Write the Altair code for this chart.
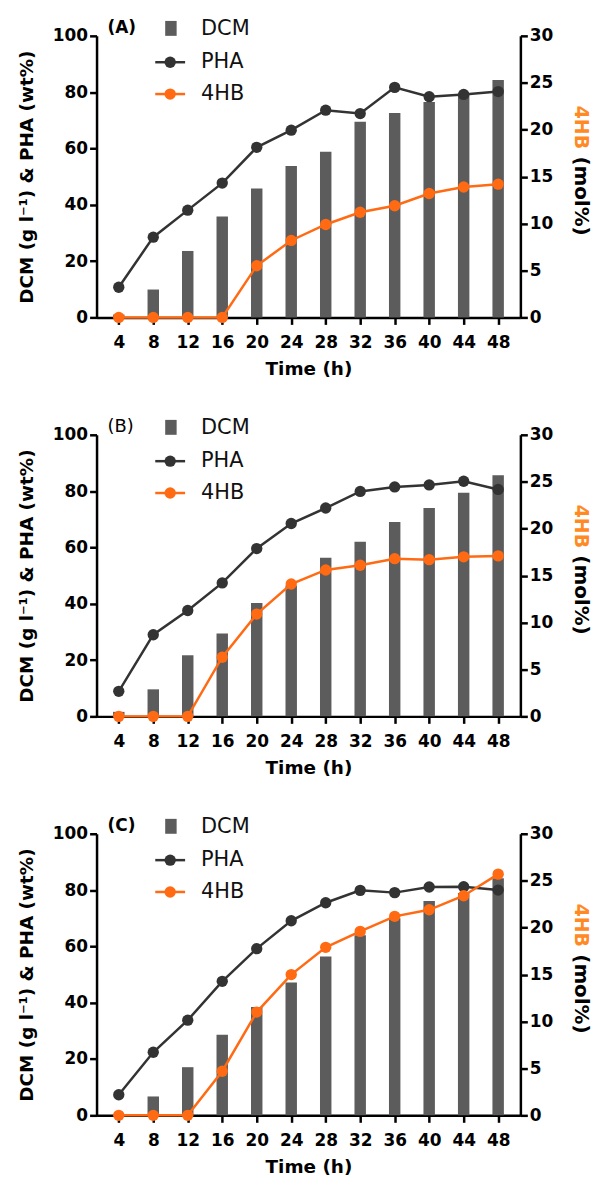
import altair as alt
import pandas as pd

# ---- data ----
time_h = [4, 8, 12, 16, 20, 24, 28, 32, 36, 40, 44, 48]

dcm_a = [1.0, 9.9, 23.6, 35.8, 45.8, 53.8, 58.8, 69.5, 72.6, 76.5, 79.0, 84.3]
pha_a = [10.7, 28.5, 38.1, 47.7, 60.4, 66.5, 73.6, 72.4, 81.7, 78.4, 79.2, 80.2]
hb_a = [0, 0, 0, 0, 5.5, 8.2, 9.9, 11.2, 11.9, 13.2, 13.9, 14.2]

dcm_b = [1.6, 9.6, 21.7, 29.4, 40.3, 46.5, 56.3, 62.0, 69.0, 74.0, 79.4, 85.6]
pha_b = [8.9, 29.0, 37.6, 47.4, 59.6, 68.5, 74.0, 79.9, 81.5, 82.2, 83.5, 80.6]
hb_b = [0, 0, 0, 6.3, 10.9, 14.1, 15.6, 16.1, 16.8, 16.7, 17.0, 17.1]

dcm_c = [0.0, 6.7, 17.1, 28.6, 38.5, 47.2, 56.4, 64.0, 70.0, 76.1, 79.0, 84.2]
pha_c = [7.3, 22.4, 33.8, 47.6, 59.2, 69.1, 75.5, 79.9, 79.1, 81.1, 81.2, 80.0]
hb_c = [0, 0, 0, 4.7, 11.0, 15.0, 17.9, 19.6, 21.2, 21.9, 23.4, 25.7]

left_ticks = [0, 20, 40, 60, 80, 100]
right_ticks = [0, 5, 10, 15, 20, 25, 30]
series_names = ["DCM", "PHA", "4HB"]

GRAY = "#5c5c5c"
DARK = "#333333"
ORANGE = "#ff6a13"
TITLE_ORANGE = "#ff8a24"
FONT = "DejaVu Sans"

W, H = 426, 283


def one(text):
    return pd.DataFrame({"t": [text]})


def panel(label, label_weight, label_size, dcm, pha, hb):
    df = pd.DataFrame({"Time": time_h, "DCM": dcm, "PHA": pha, "HB": hb})
    base = alt.Chart(df)
    x = alt.X(
        "Time:Q",
        scale=alt.Scale(domain=[2, 50], nice=False, zero=False),
        axis=alt.Axis(values=time_h, title="Time (h)", labelPadding=10, titlePadding=9),
    )
    yaxis = alt.Axis(
        values=left_ticks, title="DCM (g l\u207b\u00b9) & PHA (wt%)", orient="left",
        labelPadding=2, titlePadding=16,
    )
    yscale = alt.Scale(domain=[0, 100], nice=False)

    bars = base.mark_bar(size=11.5, color=GRAY).encode(
        x=x, y=alt.Y("DCM:Q", scale=yscale, axis=yaxis)
    )
    pha_line = base.mark_line(color=DARK, strokeWidth=2.5).encode(
        x=x, y=alt.Y("PHA:Q", scale=yscale, axis=yaxis)
    )
    pha_pts = base.mark_point(filled=True, size=130, color=DARK, opacity=1).encode(
        x=x, y=alt.Y("PHA:Q", scale=yscale, axis=yaxis)
    )
    left = alt.layer(bars, pha_line, pha_pts)

    rscale = alt.Scale(domain=[0, 30], nice=False)
    raxis = alt.Axis(values=right_ticks, orient="right", title=None, labelPadding=2)
    hb_line = base.mark_line(color=ORANGE, strokeWidth=2.5).encode(
        x=x, y=alt.Y("HB:Q", scale=rscale, axis=raxis)
    )
    hb_pts = base.mark_point(filled=True, size=130, color=ORANGE, opacity=1).encode(
        x=x, y=alt.Y("HB:Q", scale=rscale, axis=raxis)
    )
    right = alt.layer(hb_line, hb_pts)

    # panel label
    lab = alt.Chart(one(label)).mark_text(
        font=FONT, fontSize=label_size, fontWeight=label_weight, align="left", baseline="middle",
        color="black",
    ).encode(text="t:N", x=alt.value(11), y=alt.value(-8))

    # legend
    leg_y = [-7, 26.5, 58.5]
    leg_txt = [
        alt.Chart(one(n)).mark_text(
            font=FONT, fontSize=21, align="left", baseline="middle", color="#111111"
        ).encode(text="t:N", x=alt.value(105), y=alt.value(yy))
        for n, yy in zip(series_names, leg_y)
    ]
    leg_rect = alt.Chart(one("DCM")).mark_rect(color=GRAY).encode(
        x=alt.value(69), x2=alt.value(80.5), y=alt.value(-15), y2=alt.value(0)
    )
    leg_lines = []
    for col, yy in [(DARK, leg_y[1]), (ORANGE, leg_y[2])]:
        leg_lines.append(
            alt.Chart(one("l")).mark_rule(color=col, strokeWidth=2.5).encode(
                x=alt.value(59), x2=alt.value(89), y=alt.value(yy)
            )
        )
        leg_lines.append(
            alt.Chart(one("p")).mark_point(filled=True, size=130, color=col, opacity=1).encode(
                x=alt.value(74), y=alt.value(yy)
            )
        )

    # right axis title in two colours
    rt1 = alt.Chart(one("4HB")).mark_text(
        font=FONT, fontSize=19, fontWeight="bold", angle=90, align="center", baseline="middle",
        color=TITLE_ORANGE,
    ).encode(text="t:N", x=alt.value(W + 61), y=alt.value(92))
    rt2 = alt.Chart(one("(mol%)")).mark_text(
        font=FONT, fontSize=20, fontWeight="bold", angle=90, align="center", baseline="middle",
        color="black",
    ).encode(text="t:N", x=alt.value(W + 61), y=alt.value(161))

    ch = alt.layer(left, right, lab, leg_rect, *leg_lines, *leg_txt, rt1, rt2).resolve_scale(
        y="independent"
    ).properties(width=W, height=H)
    return ch


chart = alt.vconcat(
    panel("(A)", "bold", 17, dcm_a, pha_a, hb_a),
    panel("(B)", "normal", 18, dcm_b, pha_b, hb_b),
    panel("(C)", "bold", 17, dcm_c, pha_c, hb_c),
    spacing=39,
).properties(
    padding={"left": 9, "top": 7, "right": 4, "bottom": 0},
    background="white",
).configure_view(stroke=None).configure_axis(
    grid=False,
    domainColor="black",
    domainWidth=2.5,
    tickColor="black",
    tickWidth=2.5,
    tickSize=7,
    labelFont=FONT,
    labelFontSize=17,
    labelFontWeight="bold",
    labelColor="black",
    titleFont=FONT,
    titleFontSize=18.5,
    titleFontWeight="bold",
    titleColor="black",
)

chart.save("out.html", embed_options={"renderer": "svg", "actions": False})
